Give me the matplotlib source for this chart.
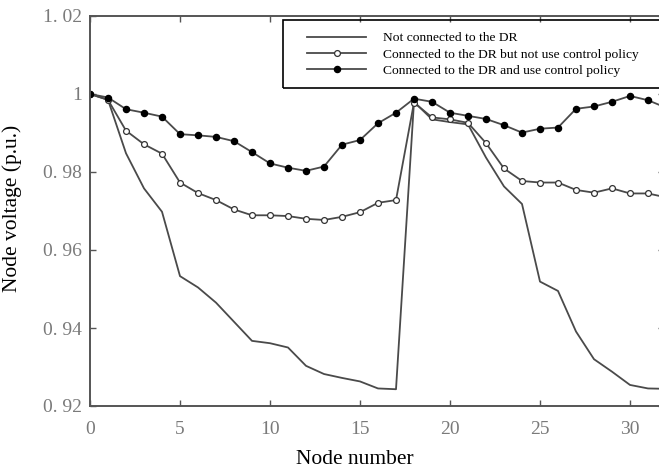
import matplotlib.pyplot as plt
from matplotlib.patches import Rectangle

# node numbers and voltages (p.u.)
nodes = list(range(33))
v_no_dr = [1.0000, 0.9985, 0.9848, 0.9758, 0.9698, 0.9533, 0.9504, 0.9465,
           0.9416, 0.9367, 0.9361, 0.9350, 0.9303, 0.9282, 0.9272, 0.9263,
           0.9245, 0.9243, 0.9980, 0.9935, 0.9928, 0.9922, 0.9837, 0.9763,
           0.9718, 0.9519, 0.9495, 0.9391, 0.9320, 0.9288, 0.9254, 0.9245,
           0.9244]
v_dr_no_ctrl = [1.0000, 0.9985, 0.9906, 0.9871, 0.9847, 0.9773, 0.9746, 0.9728,
                0.9704, 0.9689, 0.9689, 0.9687, 0.9680, 0.9677, 0.9685, 0.9697,
                0.9721, 0.9728, 0.9978, 0.9940, 0.9935, 0.9926, 0.9874, 0.9809,
                0.9777, 0.9773, 0.9773, 0.9754, 0.9747, 0.9758, 0.9745, 0.9745,
                0.9735]
v_dr_ctrl = [1.0000, 0.9991, 0.9961, 0.9952, 0.9942, 0.9897, 0.9894, 0.9890,
             0.9879, 0.9851, 0.9822, 0.9811, 0.9803, 0.9814, 0.9870, 0.9882,
             0.9925, 0.9952, 0.9988, 0.9980, 0.9952, 0.9944, 0.9936, 0.9920,
             0.9901, 0.9911, 0.9914, 0.9962, 0.9968, 0.9980, 0.9995, 0.9984,
             0.9965]
labels = ['Not connected to the DR',
          'Connected to the DR but not use control policy',
          'Connected to the DR and use control policy']
xticks = [0, 5, 10, 15, 20, 25, 30]
yticks = [0.92, 0.94, 0.96, 0.98, 1.00, 1.02]
ytick_labels = ['0. 92', '0. 94', '0. 96', '0. 98', '1', '1. 02']

line_col = '#4a4a4a'
tick_col = '#7a7a7a'

fig = plt.figure(figsize=(6.59, 4.70), dpi=100, facecolor='white')
ax_w, ax_h = 574, 390   # axes size in pixels
ax = fig.add_axes([90 / 659, 64 / 470, ax_w / 659, ax_h / 470])

ax.plot(nodes, v_no_dr, color=line_col, lw=1.3, label=labels[0])
ax.plot(nodes, v_dr_no_ctrl, color=line_col, lw=1.3, marker='o', ms=4.2,
        mfc='white', mec='#333333', mew=0.9, label=labels[1])
ax.plot(nodes, v_dr_ctrl, color=line_col, lw=1.3, marker='o', ms=4.4,
        mfc='black', mec='black', label=labels[2])

ax.set_xlim(0, ax_w / 18)
ax.set_ylim(0.92, 1.02)
ax.set_xticks(xticks)
ax.set_yticks(yticks)
ax.set_yticklabels(ytick_labels)
ax.tick_params(direction='in', length=4, width=1, color='#555555',
               top=True, right=True, labelsize=14, labelcolor=tick_col)
ax.tick_params(axis='y', pad=6)
ax.tick_params(axis='x', pad=10.5)
for lab in ax.get_xticklabels() + ax.get_yticklabels():
    lab.set_family('Liberation Serif')
for sp in ax.spines.values():
    sp.set_color('#555555')
    sp.set_linewidth(1.4)

ax.set_xlabel('Node number', family='Liberation Serif', fontsize=15.5,
              va='center')
ax.set_ylabel('Node voltage (p.u.)', family='Liberation Serif', fontsize=15.5,
              va='center')
# the source figure is cropped, so the labels are not centred on the axes
ax.xaxis.set_label_coords((355 - 90) / ax_w, -(459 - 406) / ax_h)
ax.yaxis.set_label_coords((12 - 90) / ax_w, (406 - 208) / ax_h)

# legend box runs past the right edge of the figure, as in the source image
fig.patches.append(Rectangle((283 / 659, 1 - 88 / 470), 420 / 659, 68 / 470,
                             transform=fig.transFigure, fill=False,
                             ec='black', lw=1.2, zorder=5))
leg = ax.legend(loc='upper left', bbox_to_anchor=(307 / 659, 1 - 32 / 470),
                bbox_transform=fig.transFigure, frameon=False,
                prop={'family': 'Liberation Serif', 'size': 9.7},
                handlelength=4.4, handletextpad=1.25, borderpad=0,
                labelspacing=0.28, borderaxespad=0)

fig.savefig('out.png', dpi=100, facecolor='white')
